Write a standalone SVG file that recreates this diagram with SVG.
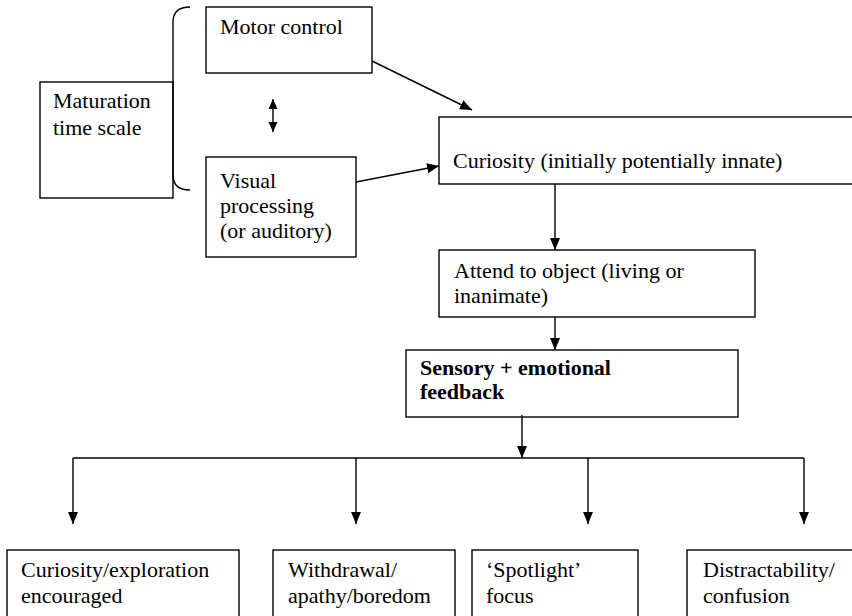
<svg xmlns="http://www.w3.org/2000/svg" width="852" height="616" viewBox="0 0 852 616">
<style>
.box{fill:#fff;stroke:#000;stroke-width:1.4}
.t{font-family:"Liberation Serif","Times New Roman","DejaVu Serif",serif;font-size:22px;fill:#000}
.b{font-weight:bold}
.c{fill:none;stroke:#000;stroke-width:1.4}
</style>
<defs>
<marker id="ah" markerUnits="userSpaceOnUse" markerWidth="12" markerHeight="12" viewBox="0 0 12 12" refX="12" refY="6" orient="auto">
<path d="M0,1 L12,6 L0,11 Z" fill="#000"/>
</marker>
<marker id="ahs" markerUnits="userSpaceOnUse" markerWidth="10" markerHeight="10" viewBox="0 0 10 10" refX="10" refY="5" orient="auto-start-reverse">
<path d="M0,0.5 L10,5 L0,9.5 Z" fill="#000"/>
</marker>
</defs>
<g id="maturation">
<rect class="box" x="40" y="82" width="133" height="116"/>
<text class="t" x="53" y="108">Maturation</text>
<text class="t" x="53" y="135">time scale</text>
</g>
<g id="bracket">
<path class="c" d="M190,7 Q173,7 173,22 L173,175 Q173,190 190,190"/>
</g>
<g id="motor">
<rect class="box" x="206" y="7" width="166" height="66"/>
<text class="t" x="220" y="34">Motor control</text>
</g>
<g id="visual">
<rect class="box" x="206" y="157" width="150" height="100"/>
<text class="t" x="220" y="188">Visual</text>
<text class="t" x="220" y="213">processing</text>
<text class="t" x="220" y="238">(or auditory)</text>
</g>
<g id="curiosity">
<rect class="box" x="439" y="117" width="430" height="67"/>
<text class="t" x="453" y="168">Curiosity (initially potentially innate)</text>
</g>
<g id="attend">
<rect class="box" x="439" y="250" width="316" height="67"/>
<text class="t" x="454" y="278">Attend to object (living or</text>
<text class="t" x="454" y="303">inanimate)</text>
</g>
<g id="sensory">
<rect class="box" x="406" y="350" width="332" height="67"/>
<text class="t b" x="420" y="375">Sensory + emotional</text>
<text class="t b" x="420" y="399">feedback</text>
</g>
<g id="out1">
<rect class="box" x="7" y="550" width="232" height="80"/>
<text class="t" x="21" y="577">Curiosity/exploration</text>
<text class="t" x="21" y="603">encouraged</text>
</g>
<g id="out2">
<rect class="box" x="273" y="550" width="182" height="80"/>
<text class="t" x="288" y="577">Withdrawal/</text>
<text class="t" x="288" y="603">apathy/boredom</text>
</g>
<g id="out3">
<rect class="box" x="472" y="550" width="166" height="80"/>
<text class="t" x="486" y="577">‘Spotlight’</text>
<text class="t" x="486" y="603">focus</text>
</g>
<g id="out4">
<rect class="box" x="687" y="550" width="180" height="80"/>
<text class="t" x="703" y="577">Distractability/</text>
<text class="t" x="703" y="603">confusion</text>
</g>
<g id="connectors">
<line class="c" x1="273" y1="99" x2="273" y2="132" marker-start="url(#ahs)" marker-end="url(#ahs)"/>
<line class="c" x1="372" y1="61" x2="472" y2="110" marker-end="url(#ah)"/>
<line class="c" x1="356" y1="182" x2="439" y2="166" marker-end="url(#ah)"/>
<line class="c" x1="555" y1="184" x2="555" y2="250" marker-end="url(#ah)"/>
<line class="c" x1="555" y1="317" x2="555" y2="350" marker-end="url(#ah)"/>
<line class="c" x1="522" y1="415" x2="522" y2="458" marker-end="url(#ah)"/>
<line class="c" x1="73" y1="458" x2="804" y2="458"/>
<line class="c" x1="73" y1="458" x2="73" y2="524" marker-end="url(#ah)"/>
<line class="c" x1="356" y1="458" x2="356" y2="524" marker-end="url(#ah)"/>
<line class="c" x1="588" y1="458" x2="588" y2="524" marker-end="url(#ah)"/>
<line class="c" x1="804" y1="458" x2="804" y2="524" marker-end="url(#ah)"/>
</g>
</svg>
